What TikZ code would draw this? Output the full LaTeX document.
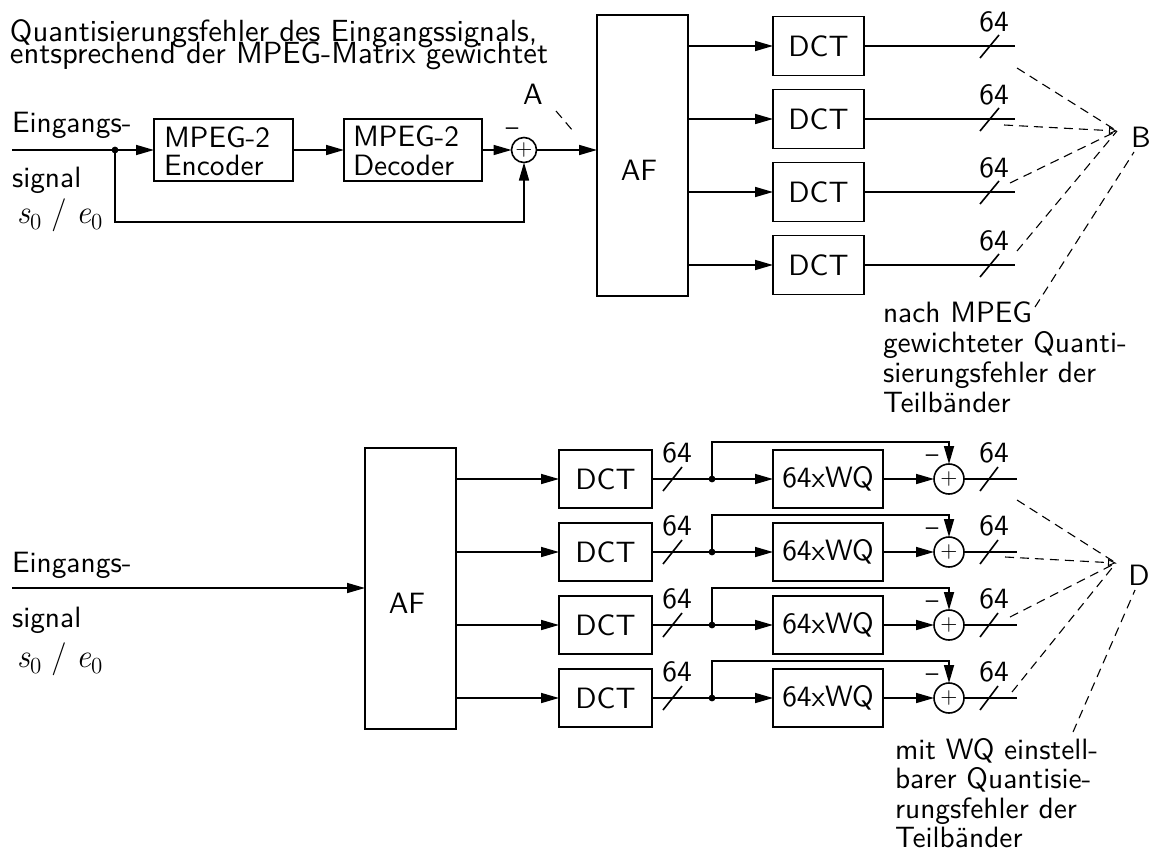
\documentclass[tikz,border=0pt]{standalone}
\usepackage{fontspec}
\newfontfamily\lms[Extension=.otf]{lmsans10-regular}
\usetikzlibrary{arrows.meta}
\newcommand{\sz}[1]{{\rmfamily\itshape\fontsize{16.5}{18}\selectfont #1}\raisebox{-3.4pt}{\rmfamily\fontsize{11.5}{12}\selectfont 0}}
\begin{document}
\begin{tikzpicture}[x=0.5pt,y=-0.5pt, line width=0.8pt,
  every node/.style={font=\lms\fontsize{14.7}{17}\selectfont, inner sep=0pt, outer sep=0pt},
  blk/.style={draw, rectangle, line width=0.8pt},
  sumc/.style={draw, circle, line width=0.8pt},
  txt/.style={anchor=base west},
  ttl/.style={anchor=base west, font=\lms\fontsize{15.3}{17}\selectfont},
  plus/.style={font=\lms\fontsize{11}{11}\selectfont},
  minus/.style={font=\lms\fontsize{12.5}{12}\selectfont},
  arr/.style={-{Triangle[length=9pt,width=5pt]}},
  oarr/.style={-{Triangle[open,length=4pt,width=3.5pt,line width=0.5pt]}},
  dsh/.style={line width=0.55pt, dash pattern=on 4.5pt off 3pt},
  jdot/.style={circle, fill, minimum size=3.4pt}
]
\useasboundingbox (0,0) rectangle (1159,856);

% ---------------- top part ----------------
\node[ttl] (t1) at (10,42) {Quantisierungsfehler des Eingangssignals,};
\node[ttl] (t2) at (10,63.5) {entsprechend der MPEG-Matrix gewichtet};

\node[txt] (ein1) at (12,132) {Eingangs-};
\node[txt] (sig1) at (12,187) {signal};
\node[txt] (se1) at (17,223) {\sz{s} {\rmfamily\fontsize{16.5}{18}\selectfont /} \sz{e}};
\coordinate (in1) at (12,150);
\node[jdot] (j1) at (115,150) {};

\node[blk, minimum width=69.5pt, minimum height=31pt] (enc) at (223.5,150) {};
\node[txt] (encl1) at (164,147) {MPEG-2};
\node[txt] (encl2) at (164,175) {Encoder};
\node[blk, minimum width=69pt, minimum height=31pt] (dec) at (413,150) {};
\node[txt] (decl1) at (353,146) {MPEG-2};
\node[txt] (decl2) at (353,175) {Decoder};

\node[sumc, minimum size=12.5pt] (s1) at (524,150) {};
\node[plus] (p1) at (s1) {+};
\node[minus] (m1) at (512,132) {–};

\draw (in1) -- (j1);
\draw[arr] (j1) -- (enc.west);
\draw[arr] (enc.east) -- (dec.west);
\draw[arr] (dec.east) -- (s1.west);
\draw[arr] (j1) -- ++(0,72) -| (s1.south);

\node[blk, minimum width=45.5pt, minimum height=140.5pt] (af1) at (642.5,155.5) {};
\node (af1l) at (639,170) {AF};
\draw[arr] (s1.east) -- (s1.east -| af1.west);

\node (A) at (533,94) {A};
\coordinate (a1) at (556,111);
\coordinate (a2) at (573,131);
\draw[dsh] (a1) -- (a2);

\foreach \i/\y in {1/46,2/119,3/192,4/265}{
  \node[blk, minimum width=45.5pt, minimum height=29.5pt] (dct\i) at (818.5,\y) {DCT};
  \draw[arr] (af1.east |- dct\i.west) -- (dct\i.west);
  \coordinate (o\i) at (1015,\y);
  \draw (dct\i.east) -- (o\i);
  \coordinate (sa\i) at (980,\y+12);
  \coordinate (sb\i) at (999,\y-11);
  \draw (sa\i) -- (sb\i);
  \node (n\i) at (994,\y-24) {64};
}

\node (B) at (1141,137) {B};
\coordinate (pb) at (1117,131);
\coordinate (b1) at (1017,68);
\coordinate (b2) at (1004,125);
\coordinate (b3) at (1010,183);
\coordinate (b4) at (1017,251);
\coordinate (b5) at (1035,307);
\coordinate (b6) at (1134,152);
\draw[dsh] (b1) -- (pb);
\draw[dsh, oarr] (b2) -- (pb);
\draw[dsh] (b3) -- (pb);
\draw[dsh] (b4) -- (pb);
\draw[dsh] (b5) -- (b6);

\node[txt] (na1) at (883,322) {nach MPEG};
\node[txt] (na2) at (883,352) {gewichteter Quanti-};
\node[txt] (na3) at (883,382) {sierungsfehler der};
\node[txt] (na4) at (883,412) {Teilbänder};

% ---------------- bottom part ----------------
\node[txt] (ein2) at (12,572) {Eingangs-};
\node[txt] (sig2) at (12,627) {signal};
\node[txt] (se2) at (17,667) {\sz{s} {\rmfamily\fontsize{16.5}{18}\selectfont /} \sz{e}};
\coordinate (in2) at (12,588);

\node[blk, minimum width=45.5pt, minimum height=140.5pt] (af2) at (410.5,588.5) {};
\node (af2l) at (407,603) {AF};
\draw[arr] (in2) -- (in2 -| af2.west);

\foreach \i/\y in {1/479,2/552,3/625,4/698}{
  \node[blk, minimum width=46.5pt, minimum height=29pt] (bd\i) at (605.5,\y) {DCT};
  \draw[arr] (af2.east |- bd\i.west) -- (bd\i.west);
  \node[jdot] (bj\i) at (712,\y) {};
  \draw (bd\i.east) -- (bj\i);
  \coordinate (bsa\i) at (663,\y+12);
  \coordinate (bsb\i) at (682,\y-12);
  \draw (bsa\i) -- (bsb\i);
  \node (bn\i) at (677,\y-26) {64};
  \node[blk, minimum width=55pt, minimum height=29pt] (wq\i) at (828,\y) {64xWQ};
  \draw[arr] (bj\i) -- (wq\i.west);
  \node[sumc, minimum size=15pt] (bs\i) at (949,\y) {};
  \node[plus] (bp\i) at (bs\i) {+};
  \node[minus] (bm\i) at (932,\y-20) {–};
  \draw[arr] (wq\i.east) -- (bs\i.west);
  \draw[arr] (bj\i) -- ++(0,-37) -| (bs\i.north);
  \coordinate (bo\i) at (1017,\y);
  \draw (bs\i.east) -- (bo\i);
  \coordinate (bta\i) at (980,\y+12);
  \coordinate (btb\i) at (998,\y-12);
  \draw (bta\i) -- (btb\i);
  \node (bm64\i) at (994,\y-26) {64};
}

\node (D) at (1139,575) {D};
\coordinate (pd) at (1116,563);
\coordinate (d1) at (1017,500);
\coordinate (d2) at (1005,557);
\coordinate (d3) at (1010,617);
\coordinate (d4) at (1012,692);
\coordinate (d5) at (1073,732);
\coordinate (d6) at (1135,590);
\draw[dsh] (d1) -- (pd);
\draw[dsh, oarr] (d2) -- (pd);
\draw[dsh] (d3) -- (pd);
\draw[dsh] (d4) -- (pd);
\draw[dsh] (d5) -- (d6);

\node[txt] (mw1) at (895,759) {mit WQ einstell-};
\node[txt] (mw2) at (895,788.5) {barer Quantisie-};
\node[txt] (mw3) at (895,818) {rungsfehler der};
\node[txt] (mw4) at (895,847.5) {Teilbänder};
\end{tikzpicture}
\end{document}
